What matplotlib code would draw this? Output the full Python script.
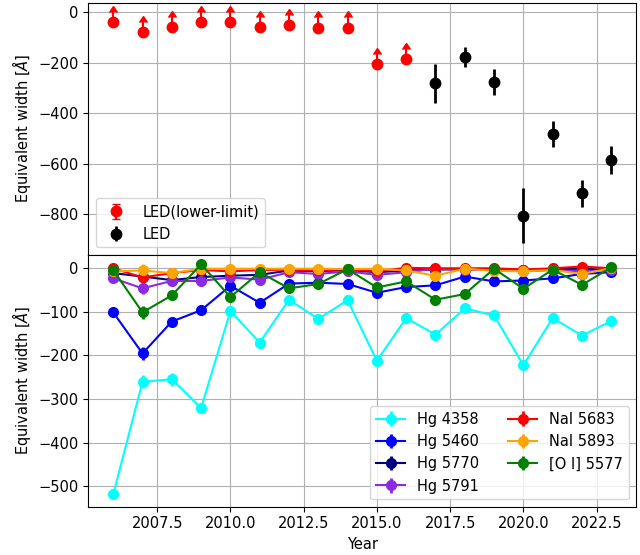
import numpy as np
import matplotlib.pyplot as plt

plt.rcParams["font.size"] = 10.5

# LED lower limits and measurements
ar_lim = [2006, 2007, 2008, 2009, 2010, 2011, 2012, 2013, 2014, 2015, 2016]
led_lim = [-40, -79, -57, -37, -40, -57, -50, -60, -60, -204, -185]
led_lim_err = [40] * len(ar_lim)

ar_led = [2017, 2018, 2019, 2020, 2021, 2022, 2023]
led = [-280, -177, -276, -805, -482, -716, -586]
led_err = [77, 39, 50, 108, 50, 53, 56]

ar = np.arange(2006, 2024)

hg4358 = [-519, -261, -255, -321, -99, -171, -73, -117, -74, -213, -115, -153, -93, -109, -223, -115, -155, -122]
hg4358_err = [4, 15, 15, 4, 3, 3, 3, 3, 3, 3, 3, 3, 3, 3, 3, 3, 3, 3]
hg5460 = [-102, -196, -123, -97, -41, -80, -36, -34, -37, -57, -44, -40, -20, -31, -29, -24, -14, -10]
hg5460_err = [10, 15, 5, 10, 3, 3, 3, 3, 3, 3, 3, 3, 3, 3, 3, 3, 3, 3]
hg5770 = [-12, -20, -28, -21, -18, -16, -6, -8, -5, -10, -6, -4, -3, -3, -5, -3, -2, -5]
hg5770_err = [3] * 18
hg5791 = [-24, -47, -30, -30, -22, -27, -10, -14, -8, -16, -10, -2, -5, -4, -8, -5, -8, -5]
hg5791_err = [4, 12, 4, 4, 3, 3, 3, 3, 3, 3, 3, 3, 3, 3, 3, 3, 3, 3]
nai5683 = [-1, -22, -12, -5, -8, -5, -4, -6, -3, -8, 0, -1, -1, -1, -4, -1, 3, -1]
nai5683_err = [8, 8, 3, 3, 3, 3, 3, 3, 3, 3, 3, 3, 3, 3, 3, 3, 3, 3]
nai5893 = [-8, -6, -12, -2, -2, -2, -2, -2, -3, -2, -6, -18, -2, -7, -8, -5, -14, -1]
nai5893_err = [3, 15, 3, 3, 3, 3, 3, 3, 3, 3, 3, 3, 3, 3, 3, 3, 3, 3]
oi5577 = [-5, -102, -63, 8, -67, -10, -47, -37, -3, -45, -31, -73, -60, -2, -48, -4, -39, 1]
oi5577_err = [4, 15, 4, 10, 3, 3, 3, 3, 3, 3, 3, 3, 3, 3, 3, 3, 3, 3]

fig, (ax1, ax2) = plt.subplots(2, 1, sharex=True, figsize=(6.4, 5.55))
fig.subplots_adjust(left=0.138, right=0.994, top=0.995, bottom=0.087, hspace=0)

ax1.errorbar(ar_lim, led_lim, yerr=led_lim_err, lolims=True, fmt="o", color="red",
             ms=7.5, capsize=3, label="LED(lower-limit)")
ax1.errorbar(ar_led, led, yerr=led_err, fmt="o", color="black", ms=7.5,
             elinewidth=2, label="LED")
ax1.set_ylim(-960, 38)
ax1.set_yticks([0, -200, -400, -600, -800])
ax1.set_ylabel(r"Equivalent width [$\AA$]")
ax1.grid(True)
ax1.legend(loc="lower left")

linjur = [
    (hg4358, hg4358_err, "cyan", "Hg 4358"),
    (hg5460, hg5460_err, "blue", "Hg 5460"),
    (hg5770, hg5770_err, "navy", "Hg 5770"),
    (hg5791, hg5791_err, "blueviolet", "Hg 5791"),
    (nai5683, nai5683_err, "red", "NaI 5683"),
    (nai5893, nai5893_err, "orange", "NaI 5893"),
    (oi5577, oi5577_err, "green", "[O I] 5577"),
]
for gildi, villa, lit, nafn in linjur:
    ax2.errorbar(ar, gildi, yerr=villa, fmt="o-", color=lit, ms=7, elinewidth=2,
                 label=nafn)

ax2.set_ylim(-547, 30)
ax2.set_ylabel(r"Equivalent width [$\AA$]")
ax2.set_xlabel("Year")
ax2.grid(True)
ax2.legend(loc="lower right", ncol=2)

plt.savefig("out.png", dpi=100)
